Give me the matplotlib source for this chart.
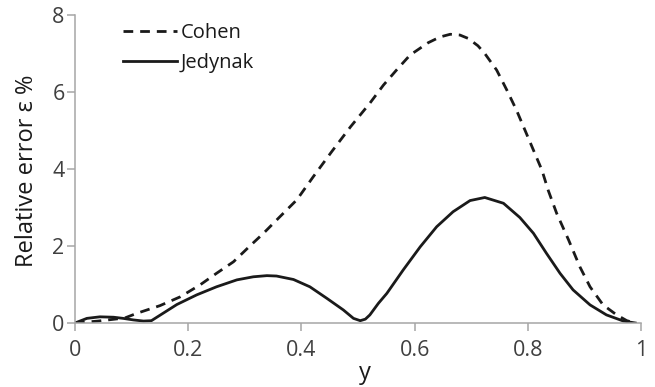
import numpy as np
import matplotlib.pyplot as plt

plt.rcParams['font.family'] = ['Open Sans', 'DejaVu Sans']
plt.rcParams['lines.scale_dashes'] = False

# relative error along y, Cohen approximation
cohen_y = [0.0, 0.041, 0.088, 0.109, 0.15, 0.186, 0.221, 0.25, 0.28, 0.309, 0.333,
           0.362, 0.392, 0.421, 0.4535, 0.487, 0.521, 0.545, 0.568, 0.592, 0.624,
           0.645, 0.663, 0.68, 0.695, 0.712, 0.724, 0.745, 0.763, 0.78, 0.795,
           0.81, 0.825, 0.836, 0.851, 0.872, 0.892, 0.91, 0.933, 0.957, 0.975, 0.99]
cohen_err = [0.0, 0.05, 0.13, 0.25, 0.45, 0.68, 0.99, 1.29, 1.59, 2.0, 2.33,
             2.76, 3.2, 3.8, 4.45, 5.1, 5.71, 6.18, 6.57, 6.96, 7.28,
             7.43, 7.5, 7.48, 7.39, 7.2, 7.0, 6.57, 6.05, 5.53, 5.01,
             4.49, 3.97, 3.45, 2.85, 2.16, 1.46, 0.94, 0.47, 0.21, 0.06, 0.0]

# relative error along y, Jedynak approximation
jed_y = [0.0, 0.021, 0.044, 0.068, 0.085, 0.103, 0.121, 0.135, 0.15, 0.165, 0.18,
         0.215, 0.25, 0.286, 0.315, 0.339, 0.356, 0.386, 0.415, 0.445, 0.474,
         0.492, 0.504, 0.513, 0.521, 0.536, 0.551, 0.58, 0.61, 0.639, 0.668,
         0.698, 0.724, 0.757, 0.786, 0.81, 0.833, 0.857, 0.88, 0.91, 0.939,
         0.969, 0.99]
jed_err = [0.0, 0.12, 0.16, 0.15, 0.12, 0.08, 0.05, 0.06, 0.2, 0.34, 0.48,
           0.73, 0.94, 1.12, 1.2, 1.23, 1.22, 1.13, 0.94, 0.64, 0.34,
           0.12, 0.06, 0.1, 0.21, 0.51, 0.77, 1.38, 1.98, 2.5, 2.89,
           3.18, 3.26, 3.11, 2.74, 2.33, 1.81, 1.29, 0.86, 0.47, 0.21,
           0.05, 0.0]

xticks = [0, 0.2, 0.4, 0.6, 0.8, 1]
xtick_labels = ['0', '0.2', '0.4', '0.6', '0.8', '1']
yticks = [0, 2, 4, 6, 8]
ytick_labels = ['0', '2', '4', '6', '8']

fig = plt.figure(figsize=(6.55, 3.87), dpi=100)
ax = fig.add_axes([0.1145, 0.1654, 0.8641, 0.7958])

ax.plot(cohen_y, cohen_err, color='#1a1a1a', lw=2.0, dashes=(7, 5), label='Cohen')
ax.plot(jed_y, jed_err, color='#1a1a1a', lw=2.0, label='Jedynak')

ax.set_xlim(0, 1)
ax.set_ylim(0, 8)
ax.set_xticks(xticks)
ax.set_xticklabels(xtick_labels)
ax.set_yticks(yticks)
ax.set_yticklabels(ytick_labels)

for side in ['top', 'right']:
    ax.spines[side].set_visible(False)
for side in ['left', 'bottom']:
    ax.spines[side].set_color('#a6a6a6')
    ax.spines[side].set_linewidth(1.1)
ax.tick_params(colors='#a6a6a6', labelcolor='#404040', length=6, width=1.1,
               labelsize=15.5)
ax.tick_params(axis='y', pad=1.5)
ax.tick_params(axis='x', pad=6)

ax.set_xlabel('y', fontsize=17, color='#1a1a1a')
ax.set_ylabel('Relative error ε %', fontsize=17, color='#1a1a1a')
ax.xaxis.set_label_coords(0.512, -0.124)
ax.yaxis.set_label_coords(-0.063, 0.493)

ax.legend(loc='upper left', bbox_to_anchor=(0.085, 0.974), frameon=False,
          borderpad=0, borderaxespad=0,
          fontsize=14.5, handlelength=2.7, handletextpad=0.15, labelspacing=0.5,
          labelcolor='#1a1a1a')

fig.savefig('out.png', dpi=100)
